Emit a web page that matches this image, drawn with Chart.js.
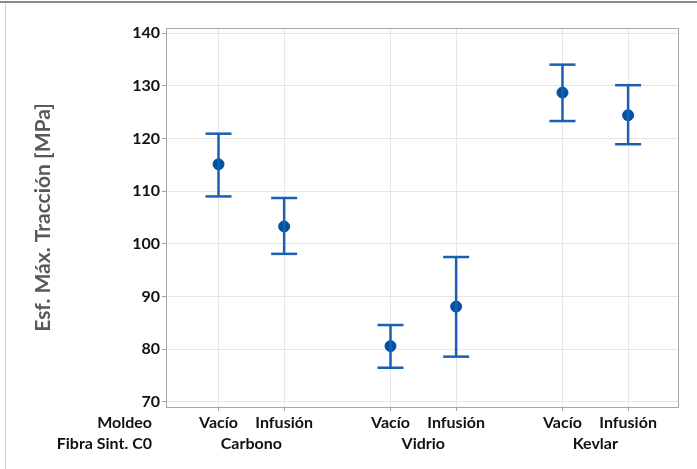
<!DOCTYPE html>
<html>
<head>
<meta charset="utf-8">
<script src="https://cdn.jsdelivr.net/npm/chart.js@4.4.1/dist/chart.umd.min.js"></script>
<style>
  html, body { margin: 0; padding: 0; background: #fff; }
  #wrap { position: relative; width: 697px; height: 469px; }
  #frameTop { position: absolute; left: 0; top: 1px; width: 697px; height: 2px; background: #8a8a8a; }
  #frameLeft { position: absolute; left: 5px; top: 3px; width: 1px; height: 466px; background: #d4d4d4; }
  canvas { position: absolute; left: 0; top: 0; }
</style>
</head>
<body>
<div id="wrap">
  <canvas id="intervalChart" width="697" height="469"></canvas>
  <div id="frameTop"></div>
  <div id="frameLeft"></div>
</div>
<script>
const moldeo = ["Vacío", "Infusión", "Vacío", "Infusión", "Vacío", "Infusión"];
const fibra = ["Carbono", "Vidrio", "Kevlar"];
const xPos = [0, 1, 2.62, 3.62, 5.24, 6.24];
const groupPos = [0.5, 3.12, 5.74];
const means = [115.1, 103.3, 80.6, 88.1, 128.7, 124.4];
const lower = [109.0, 98.1, 76.5, 78.6, 123.3, 118.9];
const upper = [120.9, 108.7, 84.6, 97.5, 134.0, 130.1];
const yTicks = [70, 80, 90, 100, 110, 120, 130, 140];

const FONT = "Lato, 'Open Sans', sans-serif";
const lineBlue = "#1b5fb0";
const dotBlue = "#0052a3";

const whiskers = xPos.map((x, i) => ({
  type: "line",
  data: [{ x: x, y: lower[i] }, { x: x, y: upper[i] }],
  borderColor: lineBlue,
  borderWidth: 2.5,
  pointStyle: "line",
  pointRadius: 13,
  pointHoverRadius: 13,
  pointBorderColor: lineBlue,
  pointBorderWidth: 2.5,
  xAxisID: "x",
  yAxisID: "y"
}));

const meanPoints = {
  type: "scatter",
  data: xPos.map((x, i) => ({ x: x, y: means[i] })),
  backgroundColor: dotBlue,
  borderColor: dotBlue,
  pointRadius: 5.5,
  pointHoverRadius: 5.5,
  xAxisID: "x",
  yAxisID: "y"
};

const frame = {
  id: "frame",
  afterDraw: c => {
    const { ctx, chartArea: a } = c;
    ctx.save();
    ctx.strokeStyle = "#a6a6a6";
    ctx.lineWidth = 1;
    ctx.strokeRect(a.left + 0.5, a.top + 0.5, a.right - a.left, a.bottom - a.top);
    ctx.font = "bold 16px " + FONT;
    ctx.fillStyle = "#111";
    ctx.textAlign = "right";
    ctx.textBaseline = "middle";
    ctx.fillText("Moldeo", 152, a.bottom + 16);
    ctx.fillText("Fibra Sint. C0", 152, a.bottom + 37);
    ctx.restore();
  }
};

new Chart(document.getElementById("intervalChart"), {
  data: { datasets: [...whiskers, meanPoints] },
  options: {
    responsive: false,
    animation: false,
    layout: { padding: { left: 0, top: 28, right: 19, bottom: 10 } },
    plugins: { legend: { display: false }, tooltip: { enabled: false } },
    scales: {
      x: {
        type: "linear",
        position: "bottom",
        min: -0.8,
        max: 7.0,
        afterBuildTicks: s => { s.ticks = xPos.map(v => ({ value: v })); },
        afterFit: s => { s.height = 27; },
        ticks: {
          callback: (v, i) => moldeo[i],
          font: { family: FONT, size: 16, weight: "bold" },
          color: "#111",
          padding: 2,
          maxRotation: 0,
          autoSkip: false
        },
        grid: { color: "#e6e6e6", tickColor: "#a6a6a6", tickLength: 4 },
        border: { color: "#a6a6a6" }
      },
      x2: {
        type: "linear",
        position: "bottom",
        min: -0.8,
        max: 7.0,
        afterBuildTicks: s => { s.ticks = groupPos.map(v => ({ value: v })); },
        afterFit: s => { s.height = 25; },
        ticks: {
          callback: (v, i) => fibra[i],
          font: { family: FONT, size: 16, weight: "bold" },
          color: "#111",
          padding: 0,
          maxRotation: 0,
          autoSkip: false
        },
        grid: { display: false, drawTicks: false, tickLength: 0 },
        border: { display: false }
      },
      y: {
        min: 69.05,
        max: 140.95,
        afterBuildTicks: s => { s.ticks = yTicks.map(v => ({ value: v })); },
        afterFit: s => { s.width = 166; },
        ticks: {
          font: { family: FONT, size: 16, weight: "bold" },
          color: "#111",
          padding: 2
        },
        grid: { color: "#e6e6e6", tickColor: "#a6a6a6", tickLength: 4 },
        border: { color: "#a6a6a6" },
        title: {
          display: true,
          text: "Esf. Máx. Tracción [MPa]",
          font: { family: FONT, size: 21, weight: "bold" },
          color: "#595959",
          padding: { top: 31, bottom: 0 }
        }
      }
    }
  },
  plugins: [frame]
});
</script>
</body>
</html>
